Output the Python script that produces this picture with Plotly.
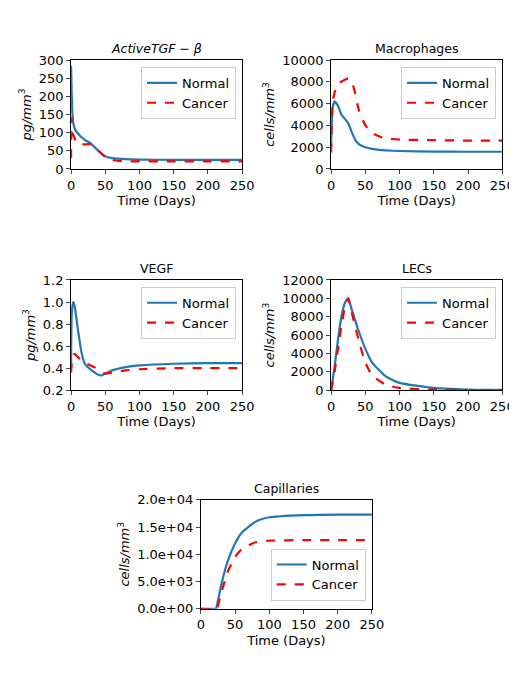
import plotly.graph_objects as go

tgf_t_n = [0,1,2,4,7,10,15,20,25,30,40,50,60,80,100,150,200,250]
tgf_n = [285,200,150,120,105,98,88,80,75,68,50,35,30,27,26,25,25,25]
tgf_t_c = [0,0.5,1,3,5,8,10,15,20,30,40,50,60,70,80,100,150,200,250]
tgf_c = [30,140,100,95,85,72,70,68,68,68,50,33,25,22,21,21,21,21,21]

mac_t_n = [0,2,5,10,15,20,25,30,35,40,50,60,70,80,100,150,200,250]
mac_n = [2000,5500,6200,5800,5000,4600,4200,3400,2700,2300,2000,1850,1750,1700,1650,1600,1580,1580]
mac_t_c = [0,2,5,10,20,25,30,35,40,50,60,70,80,100,150,200,250]
mac_c = [1500,6000,7000,7800,8200,8300,8000,7000,5500,4000,3300,3000,2800,2700,2650,2600,2600]

vegf_t_n = [0,1,3,5,10,15,20,30,40,45,50,60,80,100,150,200,250]
vegf_n = [0.4,0.9,1.0,0.97,0.75,0.55,0.44,0.38,0.34,0.335,0.35,0.38,0.41,0.425,0.44,0.445,0.445]
vegf_t_c = [0,2,5,10,20,30,40,50,60,80,100,150,200,250]
vegf_c = [0.36,0.5,0.53,0.5,0.45,0.42,0.39,0.35,0.36,0.38,0.39,0.40,0.40,0.40]

lec_t_n = [0,5,10,15,20,25,30,40,50,60,80,100,150,200,250]
lec_n = [0,2500,5500,8000,9500,10000,8800,6500,4500,3000,1500,800,250,80,30]
lec_t_c = [0,5,10,15,20,25,30,40,50,60,80,100,150,200,250]
lec_c = [0,2000,4500,7000,9000,10000,8500,5500,3000,1600,600,250,60,20,10]

cap_t_n = [0,20,22,25,30,40,50,60,80,100,150,200,250]
cap_n = [0,0,0,1500,4500,9000,12000,14000,16000,16800,17200,17300,17300]
cap_t_c = [0,24,25,30,40,50,60,80,100,150,200,250]
cap_c = [0,0,500,3000,7000,9500,11000,12200,12500,12600,12600,12600]

panels = [
    ("<i>ActiveTGF − β</i>", "<i>pg/mm</i><sup>3</sup>", tgf_t_n, tgf_n, tgf_t_c, tgf_c, [0,300], list(range(0,301,50)), None, (0.122,0.453), (0.765,0.924), "tr"),
    ("Macrophages", "<i>cells/mm</i><sup>3</sup>", mac_t_n, mac_n, mac_t_c, mac_c, [0,10000], list(range(0,10001,2000)), None, (0.625,0.956), (0.765,0.924), "tr"),
    ("VEGF", "<i>pg/mm</i><sup>3</sup>", vegf_t_n, vegf_n, vegf_t_c, vegf_c, [0.2,1.2], [0.2,0.4,0.6,0.8,1.0,1.2], ["0.2","0.4","0.6","0.8","1.0","1.2"], (0.122,0.453), (0.442,0.603), "tr"),
    ("LECs", "<i>cells/mm</i><sup>3</sup>", lec_t_n, lec_n, lec_t_c, lec_c, [0,12000], list(range(0,12001,2000)), None, (0.625,0.956), (0.442,0.603), "tr"),
    ("Capillaries", "<i>cells/mm</i><sup>3</sup>", cap_t_n, cap_n, cap_t_c, cap_c, [0,20000], [0,5000,10000,15000,20000], ["0.0e+00","5.0e+03","1.0e+04","1.5e+04","2.0e+04"], (0.373,0.704), (0.123,0.282), "br"),
]

fig = go.Figure()
f = dict(family="DejaVu Sans", size=13, color="black")
for i, (title, ylab, tn, yn, tc, yc, yr, yv, yt, xd, yd, lp) in enumerate(panels):
    k = "" if i == 0 else str(i+1)
    lg = "legend" + k
    fig.add_trace(go.Scatter(x=tn, y=yn, mode="lines", name="Normal", line=dict(color="#1f77b4", width=2.2, shape="spline", smoothing=0.5), xaxis="x"+k, yaxis="y"+k, legend=lg))
    fig.add_trace(go.Scatter(x=tc, y=yc, mode="lines", name="Cancer", line=dict(color="red", width=2.2, dash="dash", shape="spline", smoothing=0.5), xaxis="x"+k, yaxis="y"+k, legend=lg))
    ax = dict(showline=True, mirror=True, linecolor="black", linewidth=1, ticks="outside", ticklen=4, showgrid=False, zeroline=False, tickfont=f, automargin=False)
    fig.layout["xaxis"+k] = dict(ax, domain=list(xd), range=[0,250], tickvals=[0,50,100,150,200,250], anchor="y"+k,
                                 title=dict(text="Time (Days)", font=f, standoff=4))
    if yt is None:
        yt = [str(v) for v in yv]
    yax = dict(ax, domain=list(yd), range=yr, tickvals=yv, ticktext=yt, anchor="x"+k, title=dict(text=ylab, font=f, standoff=4))
    fig.layout["yaxis"+k] = yax
    if lp == "tr":
        legpos = dict(x=xd[1]-0.012, y=yd[1]-0.01, xanchor="right", yanchor="top")
    else:
        legpos = dict(x=xd[1]-0.012, y=yd[0]+0.012, xanchor="right", yanchor="bottom")
    fig.layout[lg] = dict(legpos, bgcolor="white", bordercolor="#cccccc", borderwidth=1, font=f, tracegroupgap=0, itemwidth=30)
    fig.add_annotation(text=title, x=(xd[0]+xd[1])/2, y=yd[1], xref="paper", yref="paper", xanchor="center", yanchor="bottom", showarrow=False, font=dict(family="DejaVu Sans", size=12.5, color="black"), yshift=2)

fig.update_layout(width=517, height=685, margin=dict(l=0,r=0,t=0,b=0), paper_bgcolor="white", plot_bgcolor="white", showlegend=True)
fig.write_html("out.html")
